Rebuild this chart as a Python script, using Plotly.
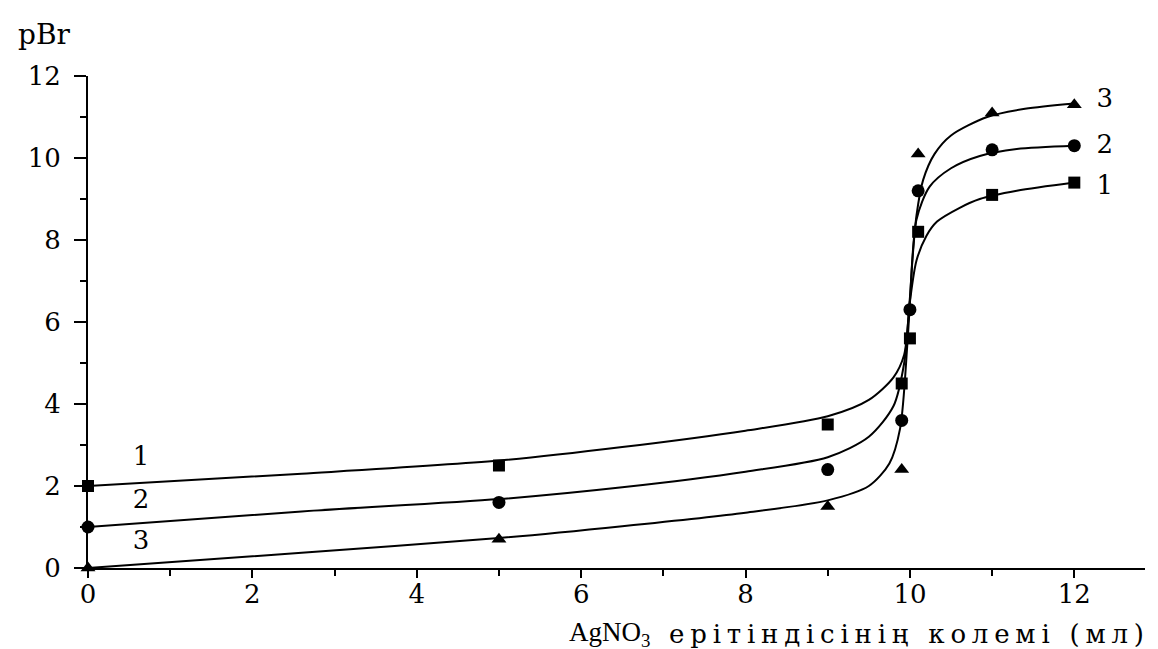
import plotly.graph_objects as go

# Measured points
x1 = [0, 5, 9, 9.9, 10.0, 10.1, 11, 12]
y1 = [2.0, 2.5, 3.5, 4.5, 5.6, 8.2, 9.1, 9.4]
x2 = [0, 5, 9, 9.9, 10.0, 10.1, 11, 12]
y2 = [1.0, 1.6, 2.4, 3.6, 6.3, 9.2, 10.2, 10.3]
x3 = [0, 5, 9, 9.9, 10.1, 11, 12]
y3 = [0.0, 0.7, 1.5, 2.4, 10.1, 11.1, 11.3]

# Smooth curves
c1x = [0, 2.6, 5, 6.5, 8, 9, 9.5, 9.8, 9.93, 10.0, 10.08, 10.2, 10.33, 10.6, 10.85, 11.3, 12]
c1y = [2.0, 2.3, 2.62, 2.95, 3.35, 3.7, 4.1, 4.65, 5.2, 6.5, 7.5, 8.1, 8.45, 8.78, 9.0, 9.2, 9.4]
c2x = [0, 2.6, 5, 6.5, 8, 9, 9.5, 9.8, 9.93, 10.0, 10.08, 10.24, 10.5, 10.85, 11.3, 12]
c2y = [1.0, 1.38, 1.68, 1.97, 2.35, 2.7, 3.2, 3.95, 5.0, 6.6, 8.5, 9.3, 9.75, 10.05, 10.22, 10.3]
c3x = [0, 2.6, 5, 6.5, 8, 9, 9.5, 9.75, 9.88, 9.97, 10.03, 10.08, 10.16, 10.3, 10.5, 10.94, 11.4, 12]
c3y = [0.0, 0.37, 0.73, 1.02, 1.35, 1.65, 2.0, 2.55, 3.4, 5.5, 7.5, 8.6, 9.46, 10.1, 10.55, 11.0, 11.2, 11.33]

# Curve labels
lab_text = ["1", "2", "3", "3", "2", "1"]
lab_x = [0.645, 0.645, 0.645, 12.37, 12.37, 12.37]
lab_y = [2.68, 1.61, 0.61, 11.41, 10.29, 9.29]

FONT = "DejaVu Serif"
FS = 26
fig = go.Figure()
for cx, cy in [(c1x, c1y), (c2x, c2y), (c3x, c3y)]:
    fig.add_trace(go.Scatter(x=cx, y=cy, mode="lines",
                             line=dict(color="black", width=2, shape="spline", smoothing=0.8),
                             showlegend=False, hoverinfo="skip", cliponaxis=False))
for xs, ys, sym, sz in [(x1, y1, "square", 12), (x2, y2, "circle", 13), (x3, y3, "triangle-up", 13)]:
    fig.add_trace(go.Scatter(x=xs, y=ys, mode="markers",
                             marker=dict(symbol=sym, size=sz, color="black"),
                             showlegend=False, cliponaxis=False))

fig.add_trace(go.Scatter(x=lab_x, y=lab_y, mode="text", text=lab_text,
                         textfont=dict(family=FONT, size=FS, color="black"),
                         showlegend=False, hoverinfo="skip", cliponaxis=False))

fig.update_layout(
    width=1158, height=649,
    margin=dict(l=80, r=21, t=68, b=89),
    paper_bgcolor="white", plot_bgcolor="white",
    font=dict(family=FONT, size=FS, color="black"),
    xaxis=dict(range=[0, 12.86], tickvals=[0, 2, 4, 6, 8, 10, 12],
               ticks="outside", ticklen=8, tickwidth=2, tickcolor="black",
               ticklabelstandoff=-6,
               minor=dict(tickvals=[1, 3, 5, 7, 9, 11], ticks="outside", ticklen=6, tickwidth=2, tickcolor="black"),
               showline=True, linecolor="black", linewidth=2, showgrid=False, zeroline=False,
               tickfont=dict(family=FONT, size=FS)),
    yaxis=dict(range=[0, 12], tickvals=[0, 2, 4, 6, 8, 10, 12],
               ticks="outside", ticklen=12, tickwidth=2, tickcolor="black",
               ticklabelstandoff=8,
               minor=dict(tickvals=[1, 3, 5, 7, 9, 11], ticks="outside", ticklen=6, tickwidth=2, tickcolor="black"),
               showline=True, linecolor="black", linewidth=2, showgrid=False, zeroline=False,
               tickfont=dict(family=FONT, size=FS)),
    annotations=[
        dict(text="pBr", xref="paper", yref="paper", x=-0.0685, y=1.0835, xanchor="left", yanchor="middle",
             showarrow=False, font=dict(family=FONT, size=28)),
        dict(text="AgNO<sub>3</sub>", xref="paper", yref="paper", x=0.453, y=-0.134, xanchor="left", yanchor="middle",
             showarrow=False, font=dict(family="Liberation Serif", size=27)),
        dict(text='<span style="letter-spacing:5.8px">ерітіндісінің колемі (мл)</span>',
             xref="paper", yref="paper", x=1.0066, y=-0.134, xanchor="right", yanchor="middle",
             showarrow=False, font=dict(family=FONT, size=FS)),
    ],
)
fig.write_html("out.html")
